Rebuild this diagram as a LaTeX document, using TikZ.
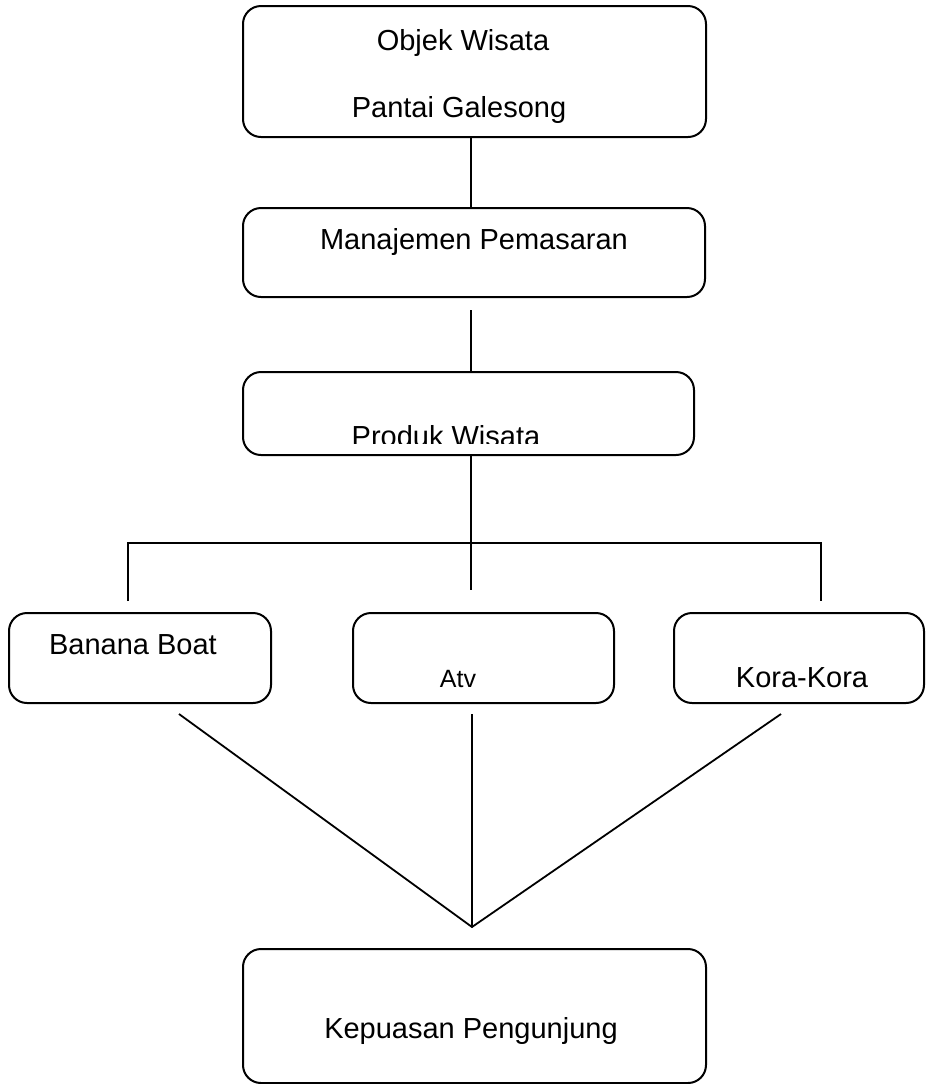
\documentclass[tikz,border=0pt]{standalone}
\usepackage{fontspec}
\setmainfont{Liberation Sans}

\tikzset{
	box/.style={draw, line width=1pt, rounded corners=9pt, inner sep=0pt},
	lbl/.style={anchor=base, font=\fontsize{14.5}{17}\selectfont},
	link/.style={line width=0.9pt},
}

\begin{document}
\begin{tikzpicture}[x=0.5pt, y=-0.5pt, line cap=butt, line join=miter]
\useasboundingbox (0,0) rectangle (928,1084);
%========================
% Top: chain of three boxes
%========================
\node[box, minimum width=231.5pt, minimum height=65.5pt] (objek) at (474.5,71.5) {};
\node[lbl] (objek-t1) at (463,50) {Objek Wisata};
\node[lbl] (objek-t2) at (459,117) {Pantai Galesong};

\node[box, minimum width=231pt, minimum height=44.5pt] (manaj) at (474,252.5) {};
\node[lbl] (manaj-t) at (474,249) {Manajemen Pemasaran};

\node[box, minimum width=225.5pt, minimum height=41.5pt] (produk) at (468.5,413.5) {};
% label cut off at its lower part
\begin{scope}
	\clip (0,0) rectangle (928,443);
	\node[lbl] (produk-t) at (446,446) {Produk Wisata};
\end{scope}

%========================
% Middle: three products
%========================
\node[box, minimum width=131pt, minimum height=45pt] (banana) at (140,658) {};
\node[lbl] (banana-t) at (133,654) {Banana Boat};

\node[box, minimum width=130.5pt, minimum height=45pt] (atv) at (483.5,658) {};
\node[lbl, font=\fontsize{12.5}{15}\selectfont] (atv-t) at (458,687) {Atv};

\node[box, minimum width=125pt, minimum height=45pt] (kora) at (799,658) {};
\node[lbl] (kora-t) at (802,687) {Kora-Kora};

%========================
% Bottom: result
%========================
\node[box, minimum width=231.5pt, minimum height=67pt] (puas) at (474.5,1016) {};
\node[lbl] (puas-t) at (471,1038) {Kepuasan Pengunjung};

% junctions
\coordinate (fork) at (471,543);
\coordinate (hl) at (128,543);
\coordinate (hr) at (821,543);
\coordinate (bout) at (179,714);
\coordinate (aout) at (472,714);
\coordinate (kout) at (781,714);
\coordinate (meet) at (472,927);

% connectors
\draw[link] (objek.south -| fork) -- (manaj.north -| fork);
\draw[link, shorten <=6pt] (manaj.south -| fork) -- (produk.north -| fork);
\draw[link, shorten >=11pt] (produk.south -| fork) -- (atv.north -| fork);
\draw[link, shorten <=5.5pt, shorten >=5.5pt] (banana.north -| hl) -- (hl) -- (hr) -- (kora.north -| hr);
\draw[link] (bout) -- (meet) -- (kout);
\draw[link] (aout) -- (meet);
\end{tikzpicture}
\end{document}
